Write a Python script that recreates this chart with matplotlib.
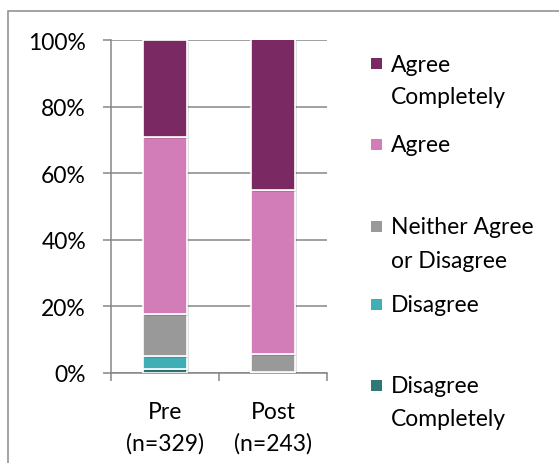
import numpy as np
import matplotlib
matplotlib.use('Agg')
import matplotlib.pyplot as plt
from matplotlib.patches import Rectangle
import matplotlib.patheffects as pe

# Survey data (percent of respondents)
categories = ['Pre\n(n=329)', 'Post\n(n=243)']
disagree_completely = [1.2, 0.0]
disagree = [3.8, 0.4]
neither = [12.6, 5.3]
agree = [53.3, 49.4]
agree_completely = [29.1, 45.3]

series = [disagree_completely, disagree, neither, agree, agree_completely]
legend_labels = ['Disagree\nCompletely', 'Disagree', 'Neither Agree\nor Disagree',
                 'Agree', 'Agree\nCompletely']
colors = ['#2E7878', '#40AFB5', '#999999', '#D37DB8', '#7A2963']
yticks = [0, 20, 40, 60, 80, 100]

W, H = 559, 464
grey = '#868686'
fs = 16.5
plt.rcParams['font.family'] = ['Lato', 'DejaVu Sans']

fig = plt.figure(figsize=(W / 100, H / 100), dpi=100)
ax = fig.add_axes([111 / W, 1 - 374 / H, 216 / W, 333 / H])

x = np.arange(len(categories))
bottom = np.zeros(len(categories))
shadow = [pe.SimplePatchShadow(offset=(1.5, -1.5), shadow_rgbFace='#000000', alpha=0.12),
          pe.Normal()]
for vals, col in zip(series, colors):
    ax.bar(x, vals, width=0.4, bottom=bottom, color=col, edgecolor='white',
           linewidth=1.2, zorder=3, path_effects=shadow)
    bottom += np.array(vals)

ax.set_xlim(-0.5, 1.5)
ax.set_ylim(0, 100)
ax.set_yticks(yticks)
ax.set_yticklabels([f'{t}%' for t in yticks], fontsize=fs)
ax.set_xticks([-0.5, 0.5, 1.5])
ax.set_xticklabels([])
ax.set_xticks(x, minor=True)
ax.set_xticklabels(categories, minor=True, fontsize=fs, linespacing=1.6)
ax.tick_params(axis='x', which='minor', length=0, pad=20)
ax.tick_params(axis='x', which='major', length=6, width=1.1, color=grey, direction='out')
ax.tick_params(axis='y', length=6, width=1.1, color=grey, direction='out', pad=12)

ax.yaxis.grid(True, color=grey, linewidth=1.1, zorder=0)
for s in ['top', 'right']:
    ax.spines[s].set_visible(False)
for s in ['left', 'bottom']:
    ax.spines[s].set_color(grey)
    ax.spines[s].set_linewidth(1.1)

# legend drawn in pixel positions on the right
first_line_y = [387, 306, 228, 146, 65]
for lab, col, yy in zip(legend_labels, colors, first_line_y):
    fig.add_artist(Rectangle((371 / W, 1 - (yy + 5) / H), 11 / W, 11 / H,
                             facecolor=col, edgecolor='none', transform=fig.transFigure))
    for i, line in enumerate(lab.split('\n')):
        fig.text(391 / W, 1 - (yy + i * 33) / H, line, fontsize=fs,
                 va='center', ha='left')

# outer chart frame
fig.add_artist(Rectangle((8 / W, -0.1), 1.2, 1 - 12 / H + 0.1, fill=False,
                         edgecolor='#8A8A8A', linewidth=1.1, transform=fig.transFigure))

fig.savefig('out.png', dpi=100)
